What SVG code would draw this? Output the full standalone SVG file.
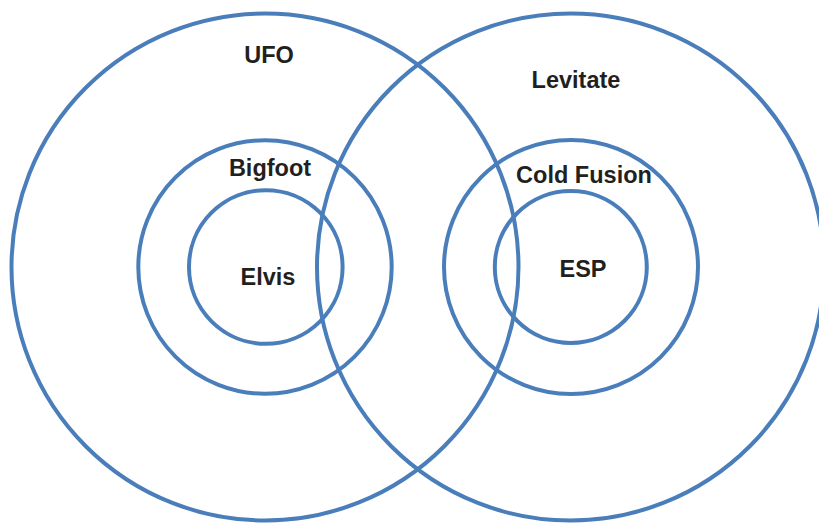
<svg xmlns="http://www.w3.org/2000/svg" width="819" height="523" viewBox="0 0 819 523">
<style>
.c{fill:none;stroke:#4A7EBB;stroke-width:4}
.t{font-family:"Liberation Sans",Arial,sans-serif;font-weight:bold;font-size:23.5px;fill:#231F20;text-anchor:middle}
</style>
<rect width="819" height="523" fill="#fff"/>
<g id="ufo"><circle class="c" cx="265" cy="267" r="253.5"/><text class="t" x="269" y="63">UFO</text></g>
<g id="levitate"><circle class="c" cx="570.5" cy="267" r="253.5"/><text class="t" x="576" y="88">Levitate</text></g>
<g id="bigfoot"><circle class="c" cx="265" cy="267" r="126.7"/><text class="t" x="270" y="176">Bigfoot</text></g>
<g id="elvis"><circle class="c" cx="265.8" cy="267" r="76.8"/><text class="t" x="268" y="285">Elvis</text></g>
<g id="coldfusion"><circle class="c" cx="571" cy="267" r="127"/><text class="t" x="584" y="183">Cold Fusion</text></g>
<g id="esp"><circle class="c" cx="570.8" cy="267" r="76"/><text class="t" x="583" y="277">ESP</text></g>
<g id="connectors"/>
</svg>
